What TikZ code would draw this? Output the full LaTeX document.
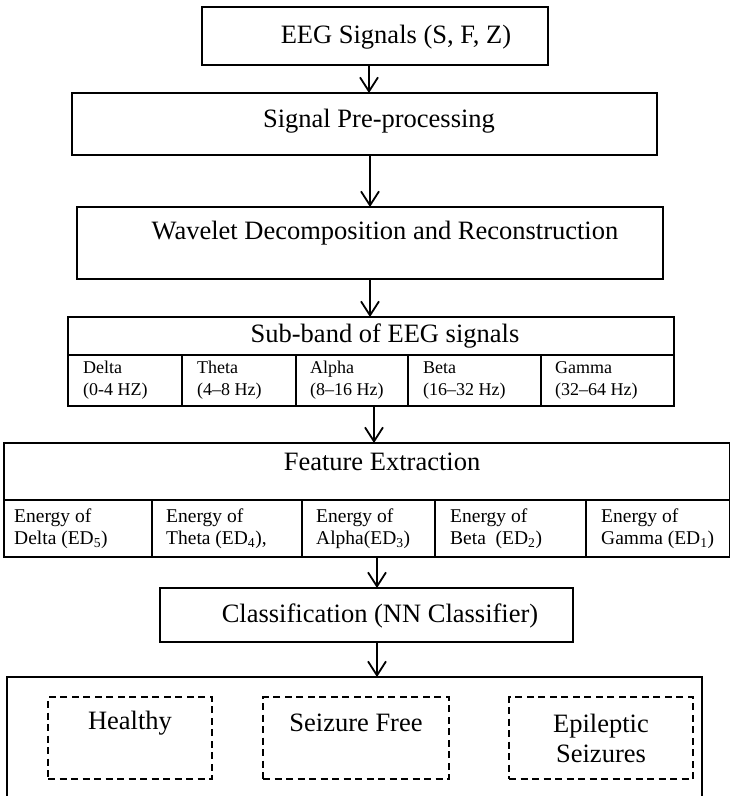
\documentclass[tikz,border=0pt]{standalone}
\usepackage{fontspec}
\setmainfont{Liberation Serif}
\usetikzlibrary{arrows.meta}
\begin{document}
\begin{tikzpicture}[x=1pt,y=-1pt,
  box/.style={draw, line width=2pt, inner sep=0pt, outer sep=0pt},
  dbox/.style={draw, line width=1.5pt, dash pattern=on 7pt off 4.5pt, inner sep=0pt, outer sep=0pt},
  big/.style={inner sep=0pt, align=center, font=\fontsize{26.5}{30}\selectfont},
  small/.style={inner sep=0pt, anchor=west, align=left, font=\fontsize{18}{22}\selectfont},
  mid/.style={inner sep=0pt, anchor=west, align=left, font=\fontsize{19.5}{22}\selectfont},
  arr/.style={line width=1.8pt, -{Straight Barb[length=14pt,width=18pt]}},
]
\useasboundingbox (0,0) rectangle (730,796);
\clip (0,0) rectangle (730,796);

% top boxes
\node[box, minimum width=346pt, minimum height=58pt] (b1) at (375,36) {};
\node[big] (t1) at (396,37) {EEG Signals (S, F, Z)};
\node[box, minimum width=585pt, minimum height=62pt] (b2) at (364.5,124) {};
\node[big] (t2) at (379,121) {Signal Pre-processing};
\node[box, minimum width=586pt, minimum height=72pt] (b3) at (370,243) {};
\node[big] (t3) at (385,233) {Wavelet Decomposition and Reconstruction};

% sub-band table
\node[box, minimum width=606pt, minimum height=38pt] (sbh) at (371,336) {};
\node[big] (sbt) at (385,336) {Sub-band of EEG signals};
\node[box, minimum width=114pt, minimum height=51pt] (s1) at (125,380.5) {};
\node[box, minimum width=114pt, minimum height=51pt] (s2) at (239,380.5) {};
\node[box, minimum width=112pt, minimum height=51pt] (s3) at (352,380.5) {};
\node[box, minimum width=133pt, minimum height=51pt] (s4) at (474.5,380.5) {};
\node[box, minimum width=133pt, minimum height=51pt] (s5) at (607.5,380.5) {};
\node[small] (s1t) at ([xshift=15pt]s1.west) {Delta\\(0-4 HZ)};
\node[small] (s2t) at ([xshift=15pt]s2.west) {Theta\\(4--8 Hz)};
\node[small] (s3t) at ([xshift=14pt]s3.west) {Alpha\\(8--16 Hz)};
\node[small] (s4t) at ([xshift=15pt]s4.west) {Beta\\(16--32 Hz)};
\node[small] (s5t) at ([xshift=14pt]s5.west) {Gamma\\(32--64 Hz)};

% feature table
\node[box, minimum width=726pt, minimum height=57pt] (fh) at (367,471.5) {};
\node[big] (ft) at (382,462) {Feature Extraction};
\node[box, minimum width=148pt, minimum height=57pt] (f1) at (78,528.5) {};
\node[box, minimum width=150pt, minimum height=57pt] (f2) at (227,528.5) {};
\node[box, minimum width=133pt, minimum height=57pt] (f3) at (368.5,528.5) {};
\node[box, minimum width=151pt, minimum height=57pt] (f4) at (510.5,528.5) {};
\node[box, minimum width=144pt, minimum height=57pt] (f5) at (658,528.5) {};
\node[mid] (f1t) at ([xshift=10pt]f1.west) {Energy of\\Delta (ED\textsubscript{5})};
\node[mid] (f2t) at ([xshift=14pt]f2.west) {Energy of\\Theta (ED\textsubscript{4}),};
\node[mid] (f3t) at ([xshift=14pt]f3.west) {Energy of\\Alpha(ED\textsubscript{3})};
\node[mid] (f4t) at ([xshift=15pt]f4.west) {Energy of\\Beta\enspace(ED\textsubscript{2})};
\node[mid] (f5t) at ([xshift=15pt]f5.west) {Energy of\\Gamma (ED\textsubscript{1})};

% classification
\node[box, minimum width=413pt, minimum height=54pt] (cl) at (366.5,615) {};
\node[big] (clt) at (380,616) {Classification (NN Classifier)};

% outcome box
\node[box, minimum width=695pt, minimum height=160pt, anchor=north west] (out) at (7,677) {};
\node[dbox, minimum width=164pt, minimum height=82pt] (h1) at (130,738) {};
\node[dbox, minimum width=186pt, minimum height=82pt] (h2) at (356,738) {};
\node[dbox, minimum width=184pt, minimum height=82pt] (h3) at (601,738) {};
\node[big] (h1t) at (130,723) {Healthy};
\node[big] (h2t) at (356,723) {Seizure Free};
\node[big] (h3t) at (601,738) {Epileptic\\Seizures};

% connectors
\coordinate (ax1) at (369,0);
\coordinate (ax2) at (370,0);
\coordinate (ax4) at (374,0);
\coordinate (ax5) at (377,0);
\draw[arr] (b1.south -| ax1) -- (b2.north -| ax1);
\draw[arr] (b2.south -| ax2) -- (b3.north -| ax2);
\draw[arr] (b3.south -| ax2) -- (sbh.north -| ax2);
\draw[arr] (s3.south -| ax4) -- (fh.north -| ax4);
\draw[arr] (f3.south -| ax5) -- (cl.north -| ax5);
\draw[arr] (cl.south -| ax5) -- (out.north -| ax5);
\end{tikzpicture}
\end{document}
